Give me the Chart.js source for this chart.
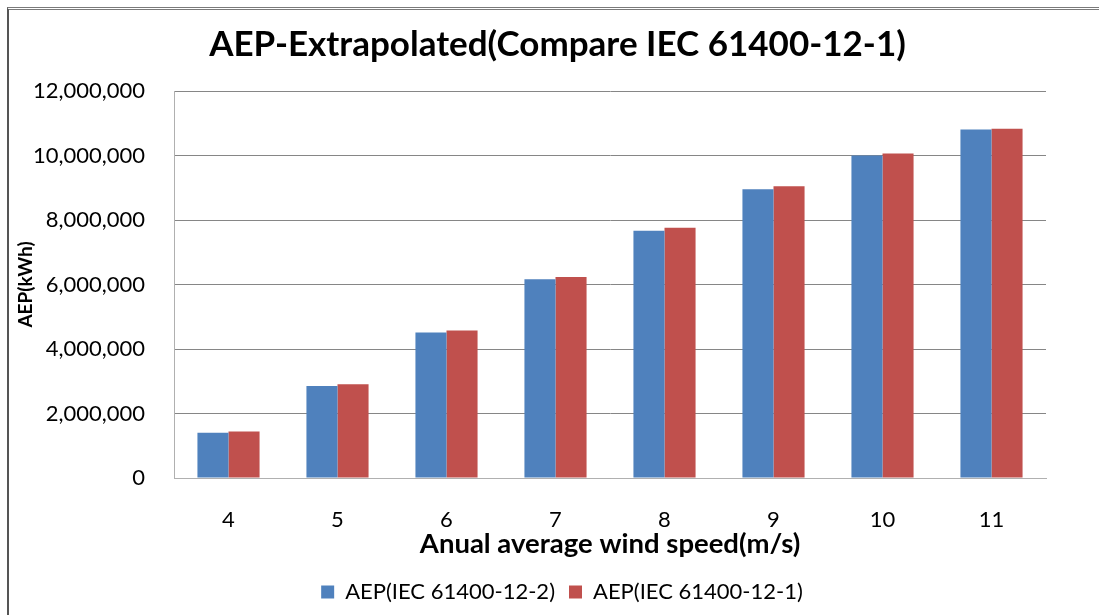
<!DOCTYPE html>
<html>
<head>
<meta charset="utf-8">
<script src="https://cdn.jsdelivr.net/npm/chart.js@4"></script>
<style>
  html, body { margin: 0; padding: 0; background: #fff; }
  #wrap { position: relative; width: 1099px; height: 615px; }
  #frame { position: absolute; left: 7px; top: 7px; right: 0; bottom: 0;
           border-top: 3px double #7a7a7a; border-left: 2px solid #555; }
  #result-bar { position: absolute; left: 0; top: 0; }
</style>
</head>
<body>
<div id="wrap">
  <div id="frame"></div>
  <canvas id="result-bar" width="1099" height="615"></canvas>
</div>
<script>
var speeds = ["4", "5", "6", "7", "8", "9", "10", "11"];
var aep122 = [1400000, 2850000, 4510000, 6160000, 7670000, 8950000, 10000000, 10810000];
var aep121 = [1440000, 2910000, 4570000, 6230000, 7760000, 9050000, 10060000, 10830000];
var yTicks = [0, 2000000, 4000000, 6000000, 8000000, 10000000, 12000000];

Chart.defaults.font.family = "Lato, 'Liberation Sans', sans-serif";
Chart.defaults.color = '#000';

// title and legend sit a bit right of the canvas centre, like in Excel
var shiftBlocks = {
    id: 'shiftBlocks',
    afterLayout: function (chart) {
        chart.titleBlock.left = 69;
        chart.legend.left = 78;
    }
};

var ctx = document.getElementById("result-bar");
var myBarChart = new Chart(ctx, {
    type: 'bar',
    data: {
        labels: speeds,
        datasets: [{
            label: 'AEP(IEC 61400-12-2)',
            data: aep122,
            backgroundColor: '#4f81bd'
        }, {
            label: 'AEP(IEC 61400-12-1)',
            data: aep121,
            backgroundColor: '#c0504d'
        }]
    },
    plugins: [shiftBlocks],
    options: {
        responsive: false,
        animation: false,
        layout: {
            padding: { left: 0, right: 53, top: 0, bottom: 2 }
        },
        datasets: {
            bar: { barPercentage: 1, categoryPercentage: 0.57 }
        },
        plugins: {
            title: {
                display: true,
                text: 'AEP-Extrapolated(Compare IEC 61400-12-1)',
                font: { size: 35, weight: 'bold', lineHeight: 1.2 },
                color: '#000',
                padding: { top: 24, bottom: 25 }
            },
            legend: {
                position: 'bottom',
                labels: {
                    boxWidth: 13,
                    boxHeight: 13,
                    padding: 14,
                    font: { size: 22 }
                }
            },
            tooltip: { enabled: false }
        },
        scales: {
            x: {
                grid: { display: false },
                border: { display: true, color: '#b0b0b0' },
                ticks: { padding: 21, font: { size: 22 } },
                title: {
                    display: true,
                    text: 'Anual average wind speed(m/s)',
                    font: { size: 27.5, weight: 'bold', lineHeight: 1 },
                    padding: { top: 0, bottom: 9 }
                },
                afterFit: function (scale) { scale.height = 89; }
            },
            y: {
                min: 0,
                max: 12000000,
                afterBuildTicks: function (scale) {
                    scale.ticks = yTicks.map(function (v) { return { value: v }; });
                },
                grid: { color: '#868686', drawTicks: false },
                border: { display: true, color: '#b0b0b0' },
                ticks: {
                    padding: 29,
                    font: { size: 22 },
                    callback: function (v) { return Number(v).toLocaleString('en-US'); }
                },
                title: {
                    display: true,
                    text: 'AEP(kWh)',
                    font: { size: 19, weight: 'bold', lineHeight: 1 },
                    padding: { top: 16, bottom: 0 }
                },
                afterFit: function (scale) { scale.width = 174; }
            }
        }
    }
});
</script>
</body>
</html>
